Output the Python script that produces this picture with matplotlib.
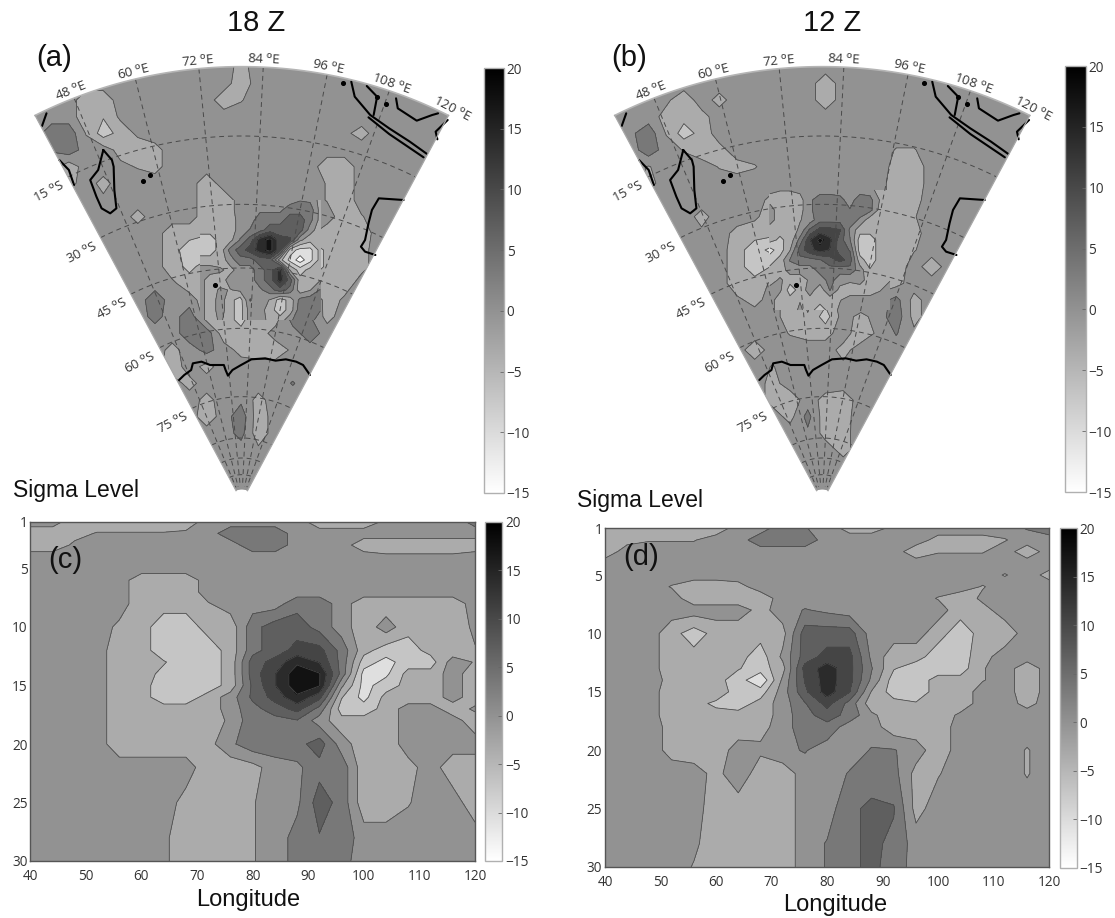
import numpy as np
import matplotlib
matplotlib.use("Agg")
import matplotlib.pyplot as plt
from matplotlib.cm import ScalarMappable
from matplotlib.colors import Normalize
from matplotlib.patches import Polygon

W, H = 1115, 918
plt.rcParams["font.family"] = ["Open Sans", "DejaVu Sans"]

LEVELS = [-15.75, -12.25, -8.75, -5.25, -1.75, 1.75, 5.25, 8.75, 12.25, 15.75, 19.25]
CBAR_TICKS = [-15, -10, -5, 0, 5, 10, 15, 20]
norm = Normalize(-15, 20)

# cross sections: rows are sigma levels, columns longitudes
sec_lon = np.arange(40, 121, 4)
sec_sigma = [1, 2, 3, 4, 5, 6, 7, 8, 10, 12, 13, 14, 15, 16, 17, 18, 20, 22, 25, 28, 30]
sec_c = [
    [0, 0, -4, -4, -4, -4, -4, -4, 0, 0, 0, 0, 0, -4, -4, -4, -1, 0, 0, 0, 3],
    [-4, -4, -3, -1.5, -1.5, -1.5, -1.5, -1, 0, 4, 4, 4, 0, 0, 0, 0, 0, 0, 0, 0, 0],
    [-4, -4, -1, 0, 0, 0, 0, 0, 0, 0, 4, 4, 0, 0, 0, -4, -4, -4, -4, -4, -4],
    [0, 0, 0, 0, 0, 0, 0, 0, 0, 0, 0, 0, 0, 0, 0, 0, -1, -1, -1, -1, 0],
    [0, 0, 0, 0, 0, 0, 0, 0, 0, 0, 0, 0, 0, 0, 0, 0, 0, 0, 0, 0, 0],
    [0, 0, 0, 0, 0, -4, -4, -4, 0, 0, 0, 0, 0, 0, 0, 0, 0, 0, 0, 0, 0],
    [0, 0, 0, 0, 0, -4, -4, -4, 0, 0, 0, 0, 0, 0, 0, 0, 0, 0, 0, 0, 0],
    [0, 0, 0, 0, 0, -4, -4, -4, -2, 0, 0, 0, 4, 4, 0, -4, -4, -4, -4, -4, 0],
    [0, 0, 0, 0, -2.5, -4, -7, -7, -4, -4, 4, 7, 7, 4, 0, -4, 0, -4, -4, -4, -1],
    [0, 0, 0, 0, -4, -4, -7, -7, -7, -4, 4, 7, 10, 10, 4, -4, -7, -7, -4, -4, -2],
    [0, 0, 0, 0, -4, -4, -5, -7, -7, -4, 7, 10, 15, 12, 4, -7, -10, -7, -7, 0, -2],
    [0, 0, 0, 0, -4, -4, -6, -7, -7, -4, 7, 12, 18, 16, 4, -10, -9.5, -4, -4, 0, -4],
    [0, 0, 0, 0, -4, -4, -7, -7, -7, -4, 6, 12, 18, 16, -1, -10, -7, -4, -4, 0, -4],
    [0, 0, 0, 0, -4, -4, -7, -7, -4, 0, 6, 10, 15, 10, -5, -10, -4, -4, -4, 0, -4],
    [0, 0, 0, 0, -4, -4, -4, -4, -4, 0, 4, 7, 10, 4, -7, -7, -4, 0, 0, -4, -1],
    [0, 0, 0, 0, -4, -4, -4, -4, -4, -1, 4, 4, 5, 0, -4, -4, -4, 0, 0, 0, -4],
    [0, 0, 0, 0, -4, -4, -4, -4, -3, 1, 4, 4, 4, 7, 0, -4, -4, 0, 0, 0, 0],
    [0, 0, 0, 0, 0, 0, 0, 0, -4, -4, -3, 0, 1, 4, 4, -4, -4, -3, 0, -4, -4],
    [0, 0, 0, 0, 0, 0, 0, -3, -4, -4, -2, 0, 1, 7, 4, -4, -4, -2, 0, 0, -4],
    [0, 0, 0, 0, 0, 0, -1, -4, -4, -4, -2, 0, 3, 5, 4, 0, 0, 0, 0, 0, 0],
    [0, 0, 0, 0, 0, 0, -1, -4, -4, -4, -2, 0, 3, 4, 3, 0, 0, 0, 0, 0, 0],
]
sec_d = [
    [-4, -4, -4, -4, -4, -4, 0, 0, 4, 2, 0, -3, -3, -1, 0, 0, 0, 0, 0, 2, 4],
    [-4, -3, -2, -2, -2, 0, 0, 4, 4, 4, 0, 0, 0, 0, 0, -3, -3, -3, -2, 0, 0],
    [-4, 0, 0, 0, 0, 0, 0, 0, 0, 0, 0, 0, 0, 0, -4, -2, -2, -2, 0, -4, 0],
    [0, 0, 0, 0, 0, 0, 0, 0, 0, 0, 0, 0, 0, 0, 0, 0, 0, 0, 0, 0, 0],
    [0, 0, 0, 0, 0, 0, 0, 0, 0, 0, 0, 0, 0, 0, 0, 0, 0, 0, -2, 0, -3],
    [0, 0, 0, -2, -4, -4, -3, 0, 0, 0, 0, 0, 0, 0, 0, 0, 0, -2, 0, 0, 0],
    [0, 0, 0, 0, -4, -4, -4, -4, 0, 0, 0, 0, 0, 0, 0, -2, -4, -1, 0, 0, 0],
    [0, 0, 0, 0, 0, 0, 0, -3, 0, 2, 1, 0, 0, 0, 0, 0, -4, -3, 0, 0, 0],
    [0, 0, 0, -4, -7, -4, -4, -4, -3, 7, 7, 7, 0, 0, 0, -4, -7, -4, -4, 0, 0],
    [0, 0, 0, -4, -4, -4, -4, -7, -1, 7, 10, 10, 1, -4, -4, -7, -7, -3, 0, 0, 0],
    [0, 0, 0, -4, -4, -4, -5, -7, -3, 10, 14, 10, 2, -5, -7, -7, -7, -2, 0, -4, 0],
    [0, 0, 0, -3, -4, -4, -7, -12, -1, 9, 14, 10, 1, -7, -7, -4, -4, -2, 0, -4, 0],
    [0, 0, 0, -4, -4, -3, -7, -7, 0, 8, 14, 9, -2, -7, -7, -4, -4, 0, 0, -4, 0],
    [0, 0, 0, -4, -4, -6, -7, -4, 0, 5, 10, 4, -4, -4, -5, -4, -4, 0, 0, -3, 0],
    [0, 0, 0, -4, -4, -4, -4, -4, 0, 4, 7, 4, -1, -4, -4, -4, -1, 0, -1, 0, 0],
    [0, 0, 0, -3, -4, -4, -4, -3, 0, 4, 4, 0, 0, -4, -4, -4, 0, 0, 0, 0, 0],
    [0, 0, 0, -3, -4, -4, 0, -1, 1, 2, 0, 0, 2, 2, 0, -4, 0, 0, 0, -2, 0],
    [0, 0, 0, 0, 0, -3, 1, -4, -4, 0, 0, 2, 3.5, 3, -3, -2, 0, 0, 0, -2, 0],
    [0, 0, 0, 0, 0, -4, -4, -4, -4, 0, 0, 4.5, 6, 5.5, -3, 0, 0, 0, 0, 0, 0],
    [0, 0, 0, 0, -1, -4, -4, -4, -4, 0, 2, 4.5, 6, 4.5, 0, 0, 0, 0, 0, 0, 0],
    [0, 0, 0, 0, -2, -4, -4, -4, -4, 0, 2, 4.5, 6, 4, 0, 0, 0, 0, 0, 0, 0],
]

# maps: fields sampled on the projected plane of each panel
map_y = np.arange(200, 1501, 50)
map_x_a = np.arange(100, 1301, 50)
map_x_b = np.arange(150, 1351, 50)
map_a = [
    [0, 0, 0, 0, 0, 0, 0, 0, 0, 0, 0, 0, -3, 0, 0, 0, 0, 0, 0, 0, 0, 0, 0, 0, 0],
    [0, 0, 0, 0, 0, 0, 0, 0, 0, 0, 0, 0, -4, 0, 0, 0, 0, 0, 0, 0, 0, 0, 0, 0, 0],
    [0, 0, 0, -4, -4, 0, 0, 0, 0, 0, 0, -4, -2, 0, 0, 0, 0, 0, 0, 0, 0, 0, 0, 0, 0],
    [0, 0, 0, -4, -5, -1, 0, 0, 0, 0, 0, 0, 0, 0, 0, 0, 0, 0, 0, 0, 0, 0, 0, 0, 0],
    [0, 4, 4, -2, -7, -4, -1, 0, 0, 0, 0, 0, 0, 0, 0, 0, 0, 0, -1, -3, 0, 0, 0, 0, 0],
    [0, 2, 4, 0, 0, -3, -4, -3, 0, 0, 0, 0, 0, 0, 0, 0, 0, 0, 0, 0, 0, 0, 0, 0, 0],
    [0, 0, -4, 0, 0, -1, -2, -3, 0, 0, 0, 0, 0, 0, 0, 0, 0, -4, -4, 0, 0, 0, 0, 0, 0],
    [0, 0, -3, 0, -3, 0, 0, 0, 0, 0, -4, 0, 0, 0, 0, 0, 0, -2, -4, 0, 0, 0, 0, 0, 0],
    [0, 0, 0, 0, -1, 0, 0, 0, 0, 0, -4, -4, 0, 0, 0, 0, 0, -2, -4, 0, 0, 0, 0, 0, 0],
    [0, 0, 0, 0, 0, 0, -3, 0, 0, 0, -4, -4, 0, 2, 4, 6, 4, 0, -4, -2, 0, 0, 0, 0, 0],
    [0, 0, 0, 0, 0, 0, 0, 0, -4, -4, -5, -6, 4, 7, 10, 10, -1, -4, -4, -4, 0, 0, 0, 0, 0],
    [0, 0, 0, 0, 0, 0, 0, 0, -4, -7, -7, -4, 10, 14, 18, -14, -10, -4, -4, -3, 0, 0, 0, 0, 0],
    [0, 0, 0, 0, 0, 0, 0, 0, -4, -6, -4, -3, 0, 4, 10, 4, -10, -4, -4, -3, 0, 0, 0, 0, 0],
    [0, 0, 0, 0, 0, 0, 0, 0, -1, -4, -3, -4, -4, 4, 7, 2, -4, -4, -4, 0, 0, 0, 0, 0, 0],
    [0, 0, 0, 0, 0, 0, 0, 4, 0, 0, -4, -4, -7, 1, -7, -2, 4, -4, -1, 0, 0, 0, 0, 0, 0],
    [0, 0, 0, 0, 0, 0, 0, 3, 0, 4, -4, -4, -7, -2, -4, 4, 2, -3, 0, 0, 0, 0, 0, 0, 0],
    [0, 0, 0, 0, 0, 0, 0, 0, 0, 4, 4, -4, -4, -4, 0, 0, 4, 0, 0, 0, 0, 0, 0, 0, 0],
    [0, 0, 0, 0, 0, 0, 0, 0, -3, 0, 3, 0, -3, -4, -4, -1, 0, 0, 0, 0, 0, 0, 0, 0, 0],
    [0, 0, 0, 0, 0, 0, 0, 0, -4, 0, -3, 0, 0, 0, 0, 0, 0, 0, 0, 0, 0, 0, 0, 0, 0],
    [0, 0, 0, 0, 0, 0, 0, 0, 0, -3, 0, 0, 0, 0, 0, 2, 0, 0, 0, 0, 0, 0, 0, 0, 0],
    [0, 0, 0, 0, 0, 0, 0, 0, 0, 0, -3, 0, 1, -3, 0, 0, 0, 0, 0, 0, 0, 0, 0, 0, 0],
    [0, 0, 0, 0, 0, 0, 0, 0, 0, 0, -4, 0, 4, -4, 0, 0, 0, 0, 0, 0, 0, 0, 0, 0, 0],
    [0, 0, 0, 0, 0, 0, 0, 0, 0, 0, 0, 0, 3, -4, 0, 0, 0, 0, 0, 0, 0, 0, 0, 0, 0],
    [0, 0, 0, 0, 0, 0, 0, 0, 0, 0, 0, 0, 0, -1, 0, 0, 0, 0, 0, 0, 0, 0, 0, 0, 0],
    [0, 0, 0, 0, 0, 0, 0, 0, 0, 0, 0, 0, 0, 0, 0, 0, 0, 0, 0, 0, 0, 0, 0, 0, 0],
    [0, 0, 0, 0, 0, 0, 0, 0, 0, 0, 0, 0, 0, 0, 0, 0, 0, 0, 0, 0, 0, 0, 0, 0, 0],
    [0, 0, 0, 0, 0, 0, 0, 0, 0, 0, 0, 0, 0, 0, 0, 0, 0, 0, 0, 0, 0, 0, 0, 0, 0],
]
map_b = [
    [0, 0, 0, 0, 0, 0, 0, 0, 0, 0, 0, 0, 0, 0, 0, 0, 0, 0, 0, 0, 0, 0, 0, 0, 0],
    [0, 0, 0, 0, 0, 0, 0, 0, 0, 0, 0, 0, -4, 0, 0, 0, 0, 0, 0, 0, 0, 0, 0, 0, 0],
    [0, 0, 0, -1, -4, 0, -3, 0, 0, 0, 0, 0, -4, 0, 0, 0, 0, 0, 0, 0, 0, 0, 0, 0, 0],
    [0, 0, 0, -3, -4, -3, 0, 0, 0, 0, 0, 0, 0, 0, 0, 0, 0, 0, 0, 0, 0, 0, 0, 0, 0],
    [0, 1, 4, -2, -7, -4, 0, 0, 0, 0, 0, 0, 0, 0, 0, 0, 0, 0, 0, 0, 0, 0, 0, 0, 0],
    [0, 0, 4, 0, -2, -4, -3, 0, 0, 0, 0, 0, 0, 0, 0, 0, -2, -2, 0, 0, 0, 0, 0, 0, 0],
    [0, 0, -2, 0, 0, 0, -2, -3, -2, 0, 0, 0, 0, 0, 0, 0, -3, -4, 0, 0, 0, 0, 0, 0, 0],
    [0, 0, -3, 0, 0, 0, 0, 0, 0, 0, 0, 0, 0, 0, 0, 0, -4, -4, 0, 0, 0, 0, 0, 0, 0],
    [0, 0, 0, 0, 0, 0, 0, 0, 0, -3, -4, -1, 3, 0, 4, 0, -4, -3, 0, 0, 0, 0, 0, 0, 0],
    [0, 0, 0, 0, 0, -3, 0, 0, -1, -4, -4, -1, 4, 1, 4, -3, -4, -2, 0, 0, 0, 0, 0, 0, 0],
    [0, 0, 0, 0, 0, -1, 0, -3, -4, -4, -4, 5, 14, 7, -2, -4, -4, -3, 0, 0, 0, 0, 0, 0, 0],
    [0, 0, 0, 0, 0, 0, 0, -4, -7, -10, -4, 7, 10, 6, -7, -4, -4, -2, 0, 0, 0, 0, 0, 0, 0],
    [0, 0, 0, 0, 0, 0, 0, -4, -7, -5, 2, 4, 4, 7, -6, -4, -4, 0, -4, 0, 0, 0, 0, 0, 0],
    [0, 0, 0, 0, 0, 0, 0, -4, -4, -1, -7, -1, 1, 0, -4, -4, -3, 0, 0, 0, 0, 0, 0, 0, 0],
    [0, 0, 0, 0, 0, 0, 0, -1, -3, 0, -4, -1, -4, 0, 2, 0, 3, -3, 0, 0, 0, 0, 0, 0, 0],
    [0, 0, 0, 0, 0, 0, 0, 0, 0, 0, -4, -2, -7, 0, -3, 0, 4, -3, 0, 0, 0, 0, 0, 0, 0],
    [0, 0, 0, 0, 0, 0, 0, 0, 0, 0, -2, -3, -3, 0, -4, -1, 2, -1, 0, 0, 0, 0, 0, 0, 0],
    [0, 0, 0, 0, 0, 0, 0, 0, -4, 0, 0, 0, 0, -3, 0, 0, 0, 0, 0, 0, 0, 0, 0, 0, 0],
    [0, 0, 0, 0, 0, 0, 0, 0, 0, -2, 0, 0, 0, -1, 0, 0, 0, 0, 0, 0, 0, 0, 0, 0, 0],
    [0, 0, 0, 0, 0, 0, 0, 0, 0, -3, 0, 0, 0, 0, 0, 0, 0, 0, 0, 0, 0, 0, 0, 0, 0],
    [0, 0, 0, 0, 0, 0, 0, 0, 0, -3, -4, 0, -3, -4, 0, 0, 0, 0, 0, 0, 0, 0, 0, 0, 0],
    [0, 0, 0, 0, 0, 0, 0, 0, 0, 0, -3, 3, -4, -4, 1, 0, 0, 0, 0, 0, 0, 0, 0, 0, 0],
    [0, 0, 0, 0, 0, 0, 0, 0, 0, 0, 0, 1, -3, -3, 0, 0, 0, 0, 0, 0, 0, 0, 0, 0, 0],
    [0, 0, 0, 0, 0, 0, 0, 0, 0, 0, 0, 0, 0, -3, 0, 0, 0, 0, 0, 0, 0, 0, 0, 0, 0],
    [0, 0, 0, 0, 0, 0, 0, 0, 0, 0, 0, 0, 0, 0, 0, 0, 0, 0, 0, 0, 0, 0, 0, 0, 0],
    [0, 0, 0, 0, 0, 0, 0, 0, 0, 0, 0, 0, 0, 0, 0, 0, 0, 0, 0, 0, 0, 0, 0, 0, 0],
    [0, 0, 0, 0, 0, 0, 0, 0, 0, 0, 0, 0, 0, 0, 0, 0, 0, 0, 0, 0, 0, 0, 0, 0, 0],
]

# finer samples over the busy centre of each map
core_x_a = 581 + 0.968 * np.arange(0, 361, 30)
core_y_a = 600 + np.arange(0, 361, 30)
core_a = [
    [-4, -4, -4, -3, 0, 0, 0, 0, 0, 0, 1.5, 1, -3],
    [-4, -4, -4, -3, 0, 0, 1, 1, 1, 4, 4, 4, -3],
    [-4, -4, -4, -4, 0, 0, 4, 4, 4, 7, 7, 3, -3],
    [-4, -4, -4, -4, 0, 2, 4, 7, 7, 8, 7, 0, -4],
    [-7, -7, -4, -3, 2, 7, 14, 17, 10, 9, -1, -4, -4],
    [-7, -7, -4, 3, 7, 10, 14, 17, 10, -7, -10, -10, -4],
    [-4, -4, -4, 0, 4, 4, 7, 7, -4, -10, -14, -10, -4],
    [0, 0, -1, -3, 0, 0, 4, 7, 14, -2, -7, -4, -4],
    [0, -4, -4, 0, 0, 0, 4, 7, 14, 7, -4, -4, -2],
    [0, -4, -1, -2, -1, 0, 1, 4, 7, 4, -4, -2, 2],
    [0, -4, 0, -4, -7, 2, 0, -2, -7, -4, 3, 4, 4],
    [0, -4, 0, -4, -7, 0, 0, -4, -7, -4, 4, 4, 2],
    [0, -4, -1, -4, -7, 0, 0, -3, -4, 1, 4, 3, 0],
]
core_x_b = 593.2 + 0.9416 * np.arange(0, 361, 30)
core_y_b = 570 + np.arange(0, 361, 30)
core_b = [
    [-1, -1.5, -1.5, -1, 0, 0, 0, 0, 0, 0, 0, -4, -4],
    [-3, -4, -4, -3, 1, 4, 4, 3, 0, 4, 3, -2, -4],
    [0, -4, -4, -3, 1, 4, 4, 3, 2, 4, 3, -3, -4],
    [0, -4, -4, -2, 0, 4, 4, 4, 4, 1, -4, -4, -4],
    [-4, -4, -4, -1, 6, 10, 10, 9, 1, -4, -4, -4, -4],
    [-4, -6, -4, 3, 12, 17, 13, 7, 2, -7, -7, -4, -4],
    [-10, -7, -2, 7, 11, 14, 12, 7, 5, -7, -7, -4, -4],
    [-7, -4, 2, 4, 4, 5, 7, 10, 7, -4, -7, -4, -4],
    [-4, -4, 0, 0, 0, 3, 4, 3, 4, 0, -5, -4, -4],
    [-4, -1, -4, -4, -1, 0, 3, 0, -1, 0, -4, -4, -2],
    [0, -1, -7, -4, 0, -4, 2, -3, -4, -4, -4, -2, 0],
    [0, -4, -4, -2, -3, -4, -4, -2, 0, 0, 0, 0, 0],
    [0, -4, -4, -1, -4, -7, -4, -1, 0, 0, 0, 0, 0],
]

lon_ticks = [48, 60, 72, 84, 96, 108, 120]
lat_ticks = [15, 30, 45, 60, 75]
lat_radius = [1096, 891, 700, 519, 314]
near_pole_radius = [190, 130, 80]

# coastlines on the plane of panel (a), as (x, y) lists
antarctica = [(520, 1140), (535, 1125), (555, 1110), (560, 1090), (585, 1085), (610, 1095), (650, 1095), (655, 1110), (662, 1127), (675, 1110), (700, 1095), (730, 1078), (770, 1075), (800, 1082), (830, 1078), (860, 1085), (880, 1095), (900, 1125)]
australia = [(1172, 600), (1100, 595), (1080, 630), (1070, 670), (1060, 720), (1048, 740), (1060, 755), (1090, 765)]
madagascar = [(300, 450), (285, 510), (262, 540), (280, 590), (295, 625), (320, 640), (338, 625), (332, 570), (330, 500), (325, 480), (300, 450)]
africa = [(172, 480), (200, 510), (215, 555)]
africa_top = [(135, 340), (122, 378)]
asia = [(1020, 245), (1030, 290), (1075, 345), (1130, 385), (1190, 425), (1240, 462)]
java = [(1070, 352), (1130, 402), (1230, 472)]
malaya = [(1065, 258), (1095, 290), (1085, 345)]
borneo = [(1150, 295), (1155, 325), (1210, 362), (1255, 345), (1272, 340)]
papua = [(1300, 360), (1265, 395), (1270, 418)]
coasts = [antarctica, australia, madagascar, africa, africa_top, asia, java, malaya, borneo, papua]
islands = [(995, 250), (1095, 290), (1120, 312), (415, 543), (435, 525), (625, 855)]

fig = plt.figure(figsize=(W / 100, H / 100), dpi=100)


def px_axes(x0, y0, x1, y1):
    return fig.add_axes([x0 / W, 1 - y1 / H, (x1 - x0) / W, (y1 - y0) / H])


def px_text(x, y, s, size, **kw):
    fig.text(x / W, 1 - y / H, s, fontsize=size, family="Liberation Sans",
             ha="center", va="center", color="#111111", **kw)


def add_cbar(x0, y0, x1, y1):
    cax = px_axes(x0, y0, x1, y1)
    cb = fig.colorbar(ScalarMappable(norm=norm, cmap="gray_r"), cax=cax, ticks=CBAR_TICKS)
    cb.ax.tick_params(labelsize=9.8, length=3, width=0.6, direction="in", pad=2, color="#666666",
                      labelcolor="#333333")
    cb.outline.set_edgecolor("#b0b0b0")
    cb.outline.set_linewidth(1)


def draw_map(box, xs, field, core, cx, sx, apex=1504, R=1304, nfac=0.685):
    ax = px_axes(*box)
    ax.set_xlim(0, 1568); ax.set_ylim(1500, 0)
    ax.axis("off")

    def proj(lon, r):
        th = np.radians((np.asarray(lon, float) - 80.0) * nfac)
        r = np.asarray(r, float)
        return cx + sx * r * np.sin(th), apex - r * np.cos(th)

    edge_lon = np.linspace(40, 120, 120)
    xa, ya = proj(edge_lon, R)
    xb, yb = proj(edge_lon[::-1], 36)
    fan = Polygon(np.c_[np.r_[xa, xb], np.r_[ya, yb]], closed=True, fc="#929292", ec="none", zorder=1)
    ax.add_patch(fan)

    z = np.array(field, float)
    sets = [ax.contourf(xs, map_y, z, levels=LEVELS, cmap="gray_r", norm=norm, zorder=2),
            ax.contour(xs, map_y, z, levels=LEVELS, colors="#484848", linewidths=0.55,
                       linestyles="solid", zorder=2.5)]
    cx_pts, cy_pts, cz = core
    cz = np.array(cz, float)
    sets += [ax.contourf(cx_pts, cy_pts, cz, levels=LEVELS, cmap="gray_r", norm=norm, zorder=3),
             ax.contour(cx_pts, cy_pts, cz, levels=LEVELS, colors="#484848", linewidths=0.55,
                        linestyles="solid", zorder=3.5)]
    for s in sets:
        s.set_clip_path(fan)

    # graticule
    for lon in lon_ticks[:-1]:
        x, y = proj([lon, lon], [R, 45])
        ax.plot(x, y, color="#4a4a4a", lw=0.7, ls=(0, (5, 4)), zorder=4)
    for r in lat_radius + near_pole_radius:
        x, y = proj(edge_lon, r)
        ax.plot(x, y, color="#4a4a4a", lw=0.7, ls=(0, (5, 4)), zorder=4)
    x, y = proj(edge_lon, R)
    ax.plot(x, y, color="#b5b5b5", lw=1.2, zorder=6)
    for lon in (40, 120):
        x, y = proj([lon, lon], [R, 36])
        ax.plot(x, y, color="#a8a8a8", lw=0.9, zorder=6)

    for pts in coasts:
        p = np.array(pts, float)
        ax.plot(cx + (p[:, 0] - 702) * sx, p[:, 1], color="black", lw=1.5, zorder=5,
                solid_capstyle="round", solid_joinstyle="round")
    p = np.array(islands, float)
    ax.scatter(cx + (p[:, 0] - 702) * sx, p[:, 1], s=7, color="black", zorder=5)

    for lon in lon_ticks:
        x, y = proj(lon, R + 22)
        ax.text(x, y, f"{lon} $^{{\\mathrm{{o}}}}$E", fontsize=9.5, color="#333333", ha="center", va="center",
                rotation=-(lon - 80) * nfac, rotation_mode="anchor", zorder=7)
    for lat, r in zip(lat_ticks, lat_radius):
        x, y = proj(40, r)
        ax.text(x - 55, y + 45, f"{lat} $^{{\\mathrm{{o}}}}$S", fontsize=9.5, color="#333333", ha="center", va="center",
                rotation=27, rotation_mode="anchor", zorder=7)


def draw_section(box, field):
    ax = px_axes(*box)
    z = np.array(field, float)
    ax.contourf(sec_lon, sec_sigma, z, levels=LEVELS, cmap="gray_r", norm=norm)
    ax.contour(sec_lon, sec_sigma, z, levels=LEVELS, colors="#484848", linewidths=0.55, linestyles="solid")
    ax.set_xlim(40, 120); ax.set_ylim(30, 1)
    ax.set_xticks(range(40, 121, 10))
    ax.set_yticks([1, 5, 10, 15, 20, 25, 30])
    ax.tick_params(labelsize=9.8, length=0, labelcolor="#333333")
    ax.tick_params(axis="x", pad=5.5)
    ax.tick_params(axis="y", pad=2)
    for s in ax.spines.values():
        s.set_color("#555555"); s.set_linewidth(1)


draw_map((0, 0, 540, 500), map_x_a, map_a, (core_x_a, core_y_a, core_a), 702, 1.0)
draw_map((560, 0, 1115, 500), map_x_b, map_b, (core_x_b, core_y_b, core_b), 741, 0.977)
draw_section((30.3, 521.7, 475, 861), sec_c)
draw_section((605, 528.3, 1049.3, 867), sec_d)

add_cbar(483.5, 68, 504, 493)
add_cbar(1065, 66, 1085.5, 492)
add_cbar(485, 521.7, 502.5, 861)
add_cbar(1060, 528.3, 1076.5, 867.5)

px_text(256.5, 23, "18 Z", 21)
px_text(832, 23, "12 Z", 21)
px_text(54, 58, "(a)", 21)
px_text(629, 58, "(b)", 21)
px_text(65, 560, "(c)", 21)
px_text(641, 557, "(d)", 21)
px_text(76, 491, "Sigma Level", 16.5)
px_text(640, 501, "Sigma Level", 16.5)
px_text(248, 900, "Longitude", 17)
px_text(835, 905, "Longitude", 17)

fig.savefig("out.png", dpi=100)
